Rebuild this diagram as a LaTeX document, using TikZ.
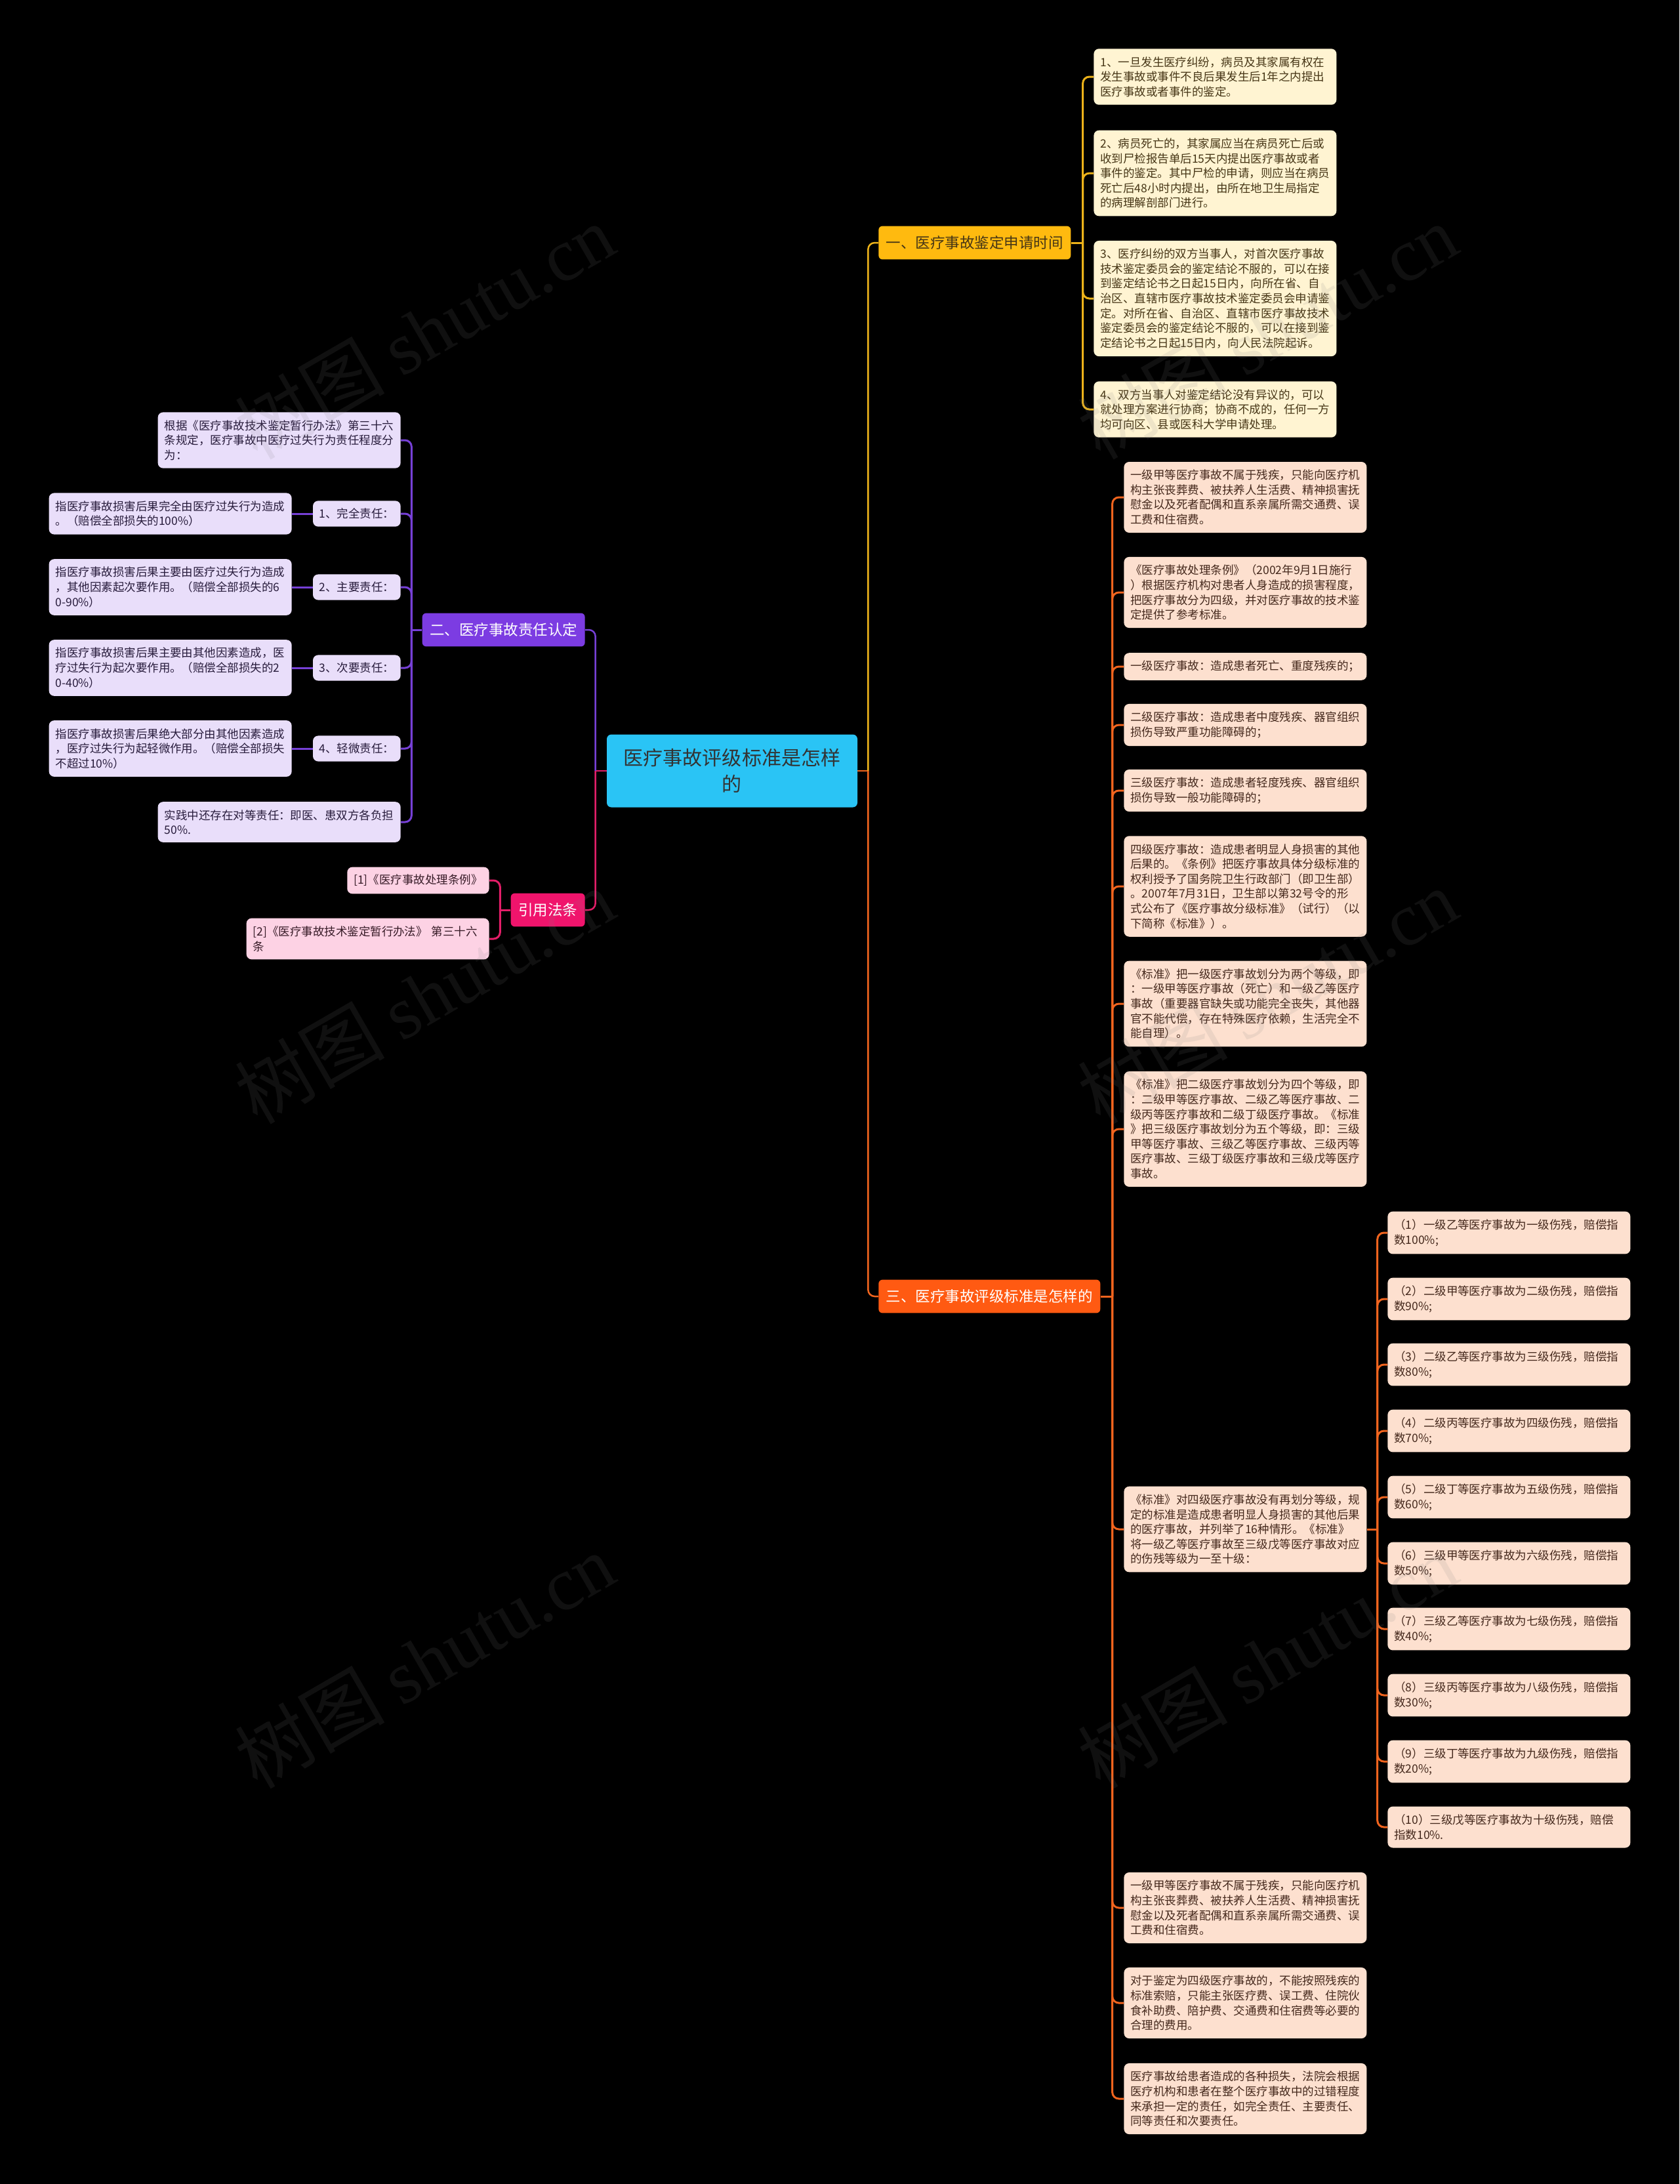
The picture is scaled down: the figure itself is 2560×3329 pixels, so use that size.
\documentclass[tikz,border=0pt]{standalone}
\usepackage{fontspec}
\setmainfont{Noto Sans CJK SC}
\newfontfamily\wmfont{Liberation Serif}
\usetikzlibrary{calc,positioning}

\begin{document}
\begin{tikzpicture}[x=0.2mm, y=-0.2mm]
	% Definición de colores
	\definecolor{fondo}{RGB}{0,0,0}
	\definecolor{cian}{RGB}{42,196,245} % Nodo central
	\definecolor{amarillo}{RGB}{255,186,15}
	\definecolor{crema}{RGB}{255,244,210}
	\definecolor{morado}{RGB}{124,60,226}
	\definecolor{lila}{RGB}{233,222,250}
	\definecolor{rosa}{RGB}{240,20,108}
	\definecolor{rosaclaro}{RGB}{253,210,228}
	\definecolor{naranja}{RGB}{255,90,18}
	\definecolor{melocoton}{RGB}{253,224,207}
	\definecolor{lamar}{RGB}{236,178,26} % Lineas amarillas
	\definecolor{lnar}{RGB}{240,100,30}  % Lineas naranjas
	\definecolor{lmor}{RGB}{118,64,214}  % Lineas moradas
	\definecolor{lros}{RGB}{226,30,104}  % Lineas rosas
	\definecolor{txtamar}{RGB}{70,54,22}
	\definecolor{txtnar}{RGB}{68,40,28}
	\definecolor{txtmor}{RGB}{40,28,60}
	\definecolor{txtros}{RGB}{56,28,40}
	
	% --- Estilos ---
	\tikzset{
		cajita/.style={rounded corners=1.6mm, inner xsep=2mm, inner ysep=2.4mm, font=\fontsize{9.95pt}{12.86pt}\selectfont},
		hoja/.style={cajita, text width=70mm, align=left},
		hojaA/.style={hoja, fill=crema, text=txtamar, anchor=west},
		hojaG/.style={hoja, fill=melocoton, text=txtnar, anchor=west},
		hojaB/.style={hoja, fill=lila, text=txtmor, anchor=east},
		hojaL/.style={hoja, fill=rosaclaro, text=txtros, anchor=east},
		etiq/.style={cajita, inner xsep=1.9mm, inner ysep=2.3mm, anchor=east},
		rama/.style={rounded corners=1.2mm, inner xsep=2.3mm, inner ysep=3mm, font=\fontsize{12.8pt}{15pt}\selectfont},
		raiz/.style={rounded corners=1.4mm, fill=cian, text=black!80, align=center, minimum width=76.4mm, minimum height=22.2mm, font=\fontsize{17.1pt}{22.8pt}\selectfont},
		enlace/.style={line width=0.6mm, rounded corners=2mm},
		marca/.style={text=gray, opacity=0.13, rotate=30, font=\fontsize{65pt}{65pt}\selectfont}
	}
	
	% --- Fondo y marco ---
	\path[use as bounding box, fill=fondo] (0,0) rectangle (2560,3329);
	
	% --- Nodo central ---
	\node[raiz] (C) at (1116,1175) {医疗事故评级标准是怎样\\的};
	
	% --- Ramas principales ---
	\node[rama, fill=amarillo, text=txtamar, anchor=west] (A) at (1339,370) {一、医疗事故鉴定申请时间};
	\node[rama, fill=naranja, text=white, anchor=west] (G) at (1339,1976) {三、医疗事故评级标准是怎样的};
	\node[rama, fill=morado, text=white, anchor=east] (B) at (892,960) {二、医疗事故责任认定};
	\node[rama, fill=rosa, text=white, anchor=east] (L) at (892,1387) {引用法条};
	
	% --- Rama uno (amarillo) ---
	\node[hojaA] (A1) at (1667,117) {1、一旦发生医疗纠纷，病员及其家属有权在\\发生事故或事件不良后果发生后1年之内提出\\医疗事故或者事件的鉴定。};
	\node[hojaA] (A2) at (1667,264) {2、病员死亡的，其家属应当在病员死亡后或\\收到尸检报告单后15天内提出医疗事故或者\\事件的鉴定。其中尸检的申请，则应当在病员\\死亡后48小时内提出，由所在地卫生局指定\\的病理解剖部门进行。};
	\node[hojaA] (A3) at (1667,455) {3、医疗纠纷的双方当事人，对首次医疗事故\\技术鉴定委员会的鉴定结论不服的，可以在接\\到鉴定结论书之日起15日内，向所在省、自\\治区、直辖市医疗事故技术鉴定委员会申请鉴\\定。对所在省、自治区、直辖市医疗事故技术\\鉴定委员会的鉴定结论不服的，可以在接到鉴\\定结论书之日起15日内，向人民法院起诉。};
	\node[hojaA] (A4) at (1667,624) {4、双方当事人对鉴定结论没有异议的，可以\\就处理方案进行协商；协商不成的，任何一方\\均可向区、县或医科大学申请处理。};
	
	% --- Rama tres (naranja) ---
	\node[hojaG] (G1) at (1713,758) {一级甲等医疗事故不属于残疾，只能向医疗机\\构主张丧葬费、被扶养人生活费、精神损害抚\\慰金以及死者配偶和直系亲属所需交通费、误\\工费和住宿费。};
	\node[hojaG] (G2) at (1713,903) {《医疗事故处理条例》（2002年9月1日施行\\）根据医疗机构对患者人身造成的损害程度，\\把医疗事故分为四级，并对医疗事故的技术鉴\\定提供了参考标准。};
	\node[hojaG] (G3) at (1713,1016) {一级医疗事故：造成患者死亡、重度残疾的；};
	\node[hojaG] (G4) at (1713,1105) {二级医疗事故：造成患者中度残疾、器官组织\\损伤导致严重功能障碍的；};
	\node[hojaG] (G5) at (1713,1205) {三级医疗事故：造成患者轻度残疾、器官组织\\损伤导致一般功能障碍的；};
	\node[hojaG] (G6) at (1713,1351) {四级医疗事故：造成患者明显人身损害的其他\\后果的。《条例》把医疗事故具体分级标准的\\权利授予了国务院卫生行政部门（即卫生部）\\。2007年7月31日，卫生部以第32号令的形\\式公布了《医疗事故分级标准》（试行）（以\\下简称《标准》）。};
	\node[hojaG] (G7) at (1713,1530) {《标准》把一级医疗事故划分为两个等级，即\\：一级甲等医疗事故（死亡）和一级乙等医疗\\事故（重要器官缺失或功能完全丧失，其他器\\官不能代偿，存在特殊医疗依赖，生活完全不\\能自理）。};
	\node[hojaG] (G8) at (1713,1721) {《标准》把二级医疗事故划分为四个等级，即\\：二级甲等医疗事故、二级乙等医疗事故、二\\级丙等医疗事故和二级丁级医疗事故。《标准\\》把三级医疗事故划分为五个等级，即：三级\\甲等医疗事故、三级乙等医疗事故、三级丙等\\医疗事故、三级丁级医疗事故和三级戊等医疗\\事故。};
	\node[hojaG] (G9) at (1713,2331) {《标准》对四级医疗事故没有再划分等级，规\\定的标准是造成患者明显人身损害的其他后果\\的医疗事故，并列举了16种情形。《标准》\\将一级乙等医疗事故至三级戊等医疗事故对应\\的伤残等级为一至十级：};
	\node[hojaG] (G10) at (1713,2908) {一级甲等医疗事故不属于残疾，只能向医疗机\\构主张丧葬费、被扶养人生活费、精神损害抚\\慰金以及死者配偶和直系亲属所需交通费、误\\工费和住宿费。};
	\node[hojaG] (G11) at (1713,3053) {对于鉴定为四级医疗事故的，不能按照残疾的\\标准索赔，只能主张医疗费、误工费、住院伙\\食补助费、陪护费、交通费和住宿费等必要的\\合理的费用。};
	\node[hojaG] (G12) at (1713,3199) {医疗事故给患者造成的各种损失，法院会根据\\医疗机构和患者在整个医疗事故中的过错程度\\来承担一定的责任，如完全责任、主要责任、\\同等责任和次要责任。};
	
	% --- Grados de invalidez (hijos de G9) ---
	\node[hojaG] (S1) at (2115,1879) {（1）一级乙等医疗事故为一级伤残，赔偿指\\数100\%;};
	\node[hojaG] (S2) at (2115,1980) {（2）二级甲等医疗事故为二级伤残，赔偿指\\数90\%;};
	\node[hojaG] (S3) at (2115,2080) {（3）二级乙等医疗事故为三级伤残，赔偿指\\数80\%;};
	\node[hojaG] (S4) at (2115,2181) {（4）二级丙等医疗事故为四级伤残，赔偿指\\数70\%;};
	\node[hojaG] (S5) at (2115,2282) {（5）二级丁等医疗事故为五级伤残，赔偿指\\数60\%;};
	\node[hojaG] (S6) at (2115,2383) {（6）三级甲等医疗事故为六级伤残，赔偿指\\数50\%;};
	\node[hojaG] (S7) at (2115,2483) {（7）三级乙等医疗事故为七级伤残，赔偿指\\数40\%;};
	\node[hojaG] (S8) at (2115,2584) {（8）三级丙等医疗事故为八级伤残，赔偿指\\数30\%;};
	\node[hojaG] (S9) at (2115,2685) {（9）三级丁等医疗事故为九级伤残，赔偿指\\数20\%;};
	\node[hojaG] (S10) at (2115,2785) {（10）三级戊等医疗事故为十级伤残，赔偿\\指数10\%.};
	
	% --- Rama dos (morado) ---
	\node[hojaB] (B0) at (611,671) {根据《医疗事故技术鉴定暂行办法》第三十六\\条规定，医疗事故中医疗过失行为责任程度分\\为：};
	\node[etiq, fill=lila, text=txtmor] (B1) at (611,783) {1、完全责任：};
	\node[etiq, fill=lila, text=txtmor] (B2) at (611,895) {2、主要责任：};
	\node[etiq, fill=lila, text=txtmor] (B3) at (611,1018) {3、次要责任：};
	\node[etiq, fill=lila, text=txtmor] (B4) at (611,1141) {4、轻微责任：};
	\node[hojaB] (B1d) at (445,783) {指医疗事故损害后果完全由医疗过失行为造成\\。（赔偿全部损失的100\%）};
	\node[hojaB] (B2d) at (445,895) {指医疗事故损害后果主要由医疗过失行为造成\\，其他因素起次要作用。（赔偿全部损失的6\\0-90\%）};
	\node[hojaB] (B3d) at (445,1018) {指医疗事故损害后果主要由其他因素造成，医\\疗过失行为起次要作用。（赔偿全部损失的2\\0-40\%）};
	\node[hojaB] (B4d) at (445,1141) {指医疗事故损害后果绝大部分由其他因素造成\\，医疗过失行为起轻微作用。（赔偿全部损失\\不超过10\%）};
	\node[hojaB] (B5) at (611,1253) {实践中还存在对等责任：即医、患双方各负担\\50\%.};
	
	% --- Referencias (rosa) ---
	\node[etiq, inner xsep=2mm, fill=rosaclaro, text=txtros] (L1) at (746,1342) {[1]《医疗事故处理条例》};
	\node[hojaL] (L2) at (746,1431) {[2]《医疗事故技术鉴定暂行办法》 第三十六\\条};
	
	% --- Conexiones ---
	\coordinate (jd) at ($(C.east)+(16,0)$);
	\coordinate (ji) at ($(C.west)-(17,0)$);
	\draw[enlace, line width=0.5mm, draw=lnar] (C.east) -- (jd);
	\draw[enlace, line width=0.5mm, draw=lamar] (jd) |- (A.west);
	\draw[enlace, line width=0.5mm, draw=lnar] (jd) |- (G.west);
	\draw[enlace, line width=0.5mm, draw=lros] (C.west) -- (ji);
	\draw[enlace, line width=0.5mm, draw=lmor] (ji) |- (B.east);
	\draw[enlace, line width=0.5mm, draw=lros] (ji) |- (L.east);
	
	% Rama uno
	\coordinate (jA) at ($(A.east)+(18,0)$);
	\draw[enlace, draw=lamar] (A.east) -- (jA);
	\draw[enlace, draw=lamar] (jA) |- (A1.west);
	\draw[enlace, draw=lamar] (jA) |- (A2.west);
	\draw[enlace, draw=lamar] (jA) |- (A3.west);
	\draw[enlace, draw=lamar] (jA) |- (A4.west);
	
	% Rama tres
	\coordinate (jG) at ($(G.east)+(18,0)$);
	\draw[enlace, draw=lnar] (G.east) -- (jG);
	\draw[enlace, draw=lnar] (jG) |- (G1.west);
	\draw[enlace, draw=lnar] (jG) |- (G2.west);
	\draw[enlace, draw=lnar] (jG) |- (G3.west);
	\draw[enlace, draw=lnar] (jG) |- (G4.west);
	\draw[enlace, draw=lnar] (jG) |- (G5.west);
	\draw[enlace, draw=lnar] (jG) |- (G6.west);
	\draw[enlace, draw=lnar] (jG) |- (G7.west);
	\draw[enlace, draw=lnar] (jG) |- (G8.west);
	\draw[enlace, draw=lnar] (jG) |- (G9.west);
	\draw[enlace, draw=lnar] (jG) |- (G10.west);
	\draw[enlace, draw=lnar] (jG) |- (G11.west);
	\draw[enlace, draw=lnar] (jG) |- (G12.west);
	
	% Hijos de G9
	\coordinate (jS) at ($(G9.east)+(16,0)$);
	\draw[enlace, draw=lnar] (G9.east) -- (jS);
	\draw[enlace, draw=lnar] (jS) |- (S1.west);
	\draw[enlace, draw=lnar] (jS) |- (S2.west);
	\draw[enlace, draw=lnar] (jS) |- (S3.west);
	\draw[enlace, draw=lnar] (jS) |- (S4.west);
	\draw[enlace, draw=lnar] (jS) |- (S5.west);
	\draw[enlace, draw=lnar] (jS) |- (S6.west);
	\draw[enlace, draw=lnar] (jS) |- (S7.west);
	\draw[enlace, draw=lnar] (jS) |- (S8.west);
	\draw[enlace, draw=lnar] (jS) |- (S9.west);
	\draw[enlace, draw=lnar] (jS) |- (S10.west);
	
	% Rama dos
	\coordinate (jB) at ($(B.west)-(16,0)$);
	\draw[enlace, draw=lmor] (B.west) -- (jB);
	\draw[enlace, draw=lmor] (jB) |- (B0.east);
	\draw[enlace, draw=lmor] (jB) |- (B1.east);
	\draw[enlace, draw=lmor] (jB) |- (B2.east);
	\draw[enlace, draw=lmor] (jB) |- (B3.east);
	\draw[enlace, draw=lmor] (jB) |- (B4.east);
	\draw[enlace, draw=lmor] (jB) |- (B5.east);
	\draw[enlace, draw=lmor] (B1.west) -- (B1d.east);
	\draw[enlace, draw=lmor] (B2.west) -- (B2d.east);
	\draw[enlace, draw=lmor] (B3.west) -- (B3d.east);
	\draw[enlace, draw=lmor] (B4.west) -- (B4d.east);
	
	% Referencias
	\coordinate (jL) at ($(L.west)-(16,0)$);
	\draw[enlace, draw=lros] (L.west) -- (jL);
	\draw[enlace, draw=lros] (jL) |- (L1.east);
	\draw[enlace, draw=lros] (jL) |- (L2.east);
	
	% --- Marca de agua ---
	\node[marca] (w1) at (647,505) {树图 {\wmfont shutu.cn}};
	\node[marca] (w2) at (1932,505) {树图 {\wmfont shutu.cn}};
	\node[marca] (w3) at (647,1518) {树图 {\wmfont shutu.cn}};
	\node[marca] (w4) at (1932,1518) {树图 {\wmfont shutu.cn}};
	\node[marca] (w5) at (647,2531) {树图 {\wmfont shutu.cn}};
	\node[marca] (w6) at (1932,2531) {树图 {\wmfont shutu.cn}};
	
\end{tikzpicture}
\end{document}
